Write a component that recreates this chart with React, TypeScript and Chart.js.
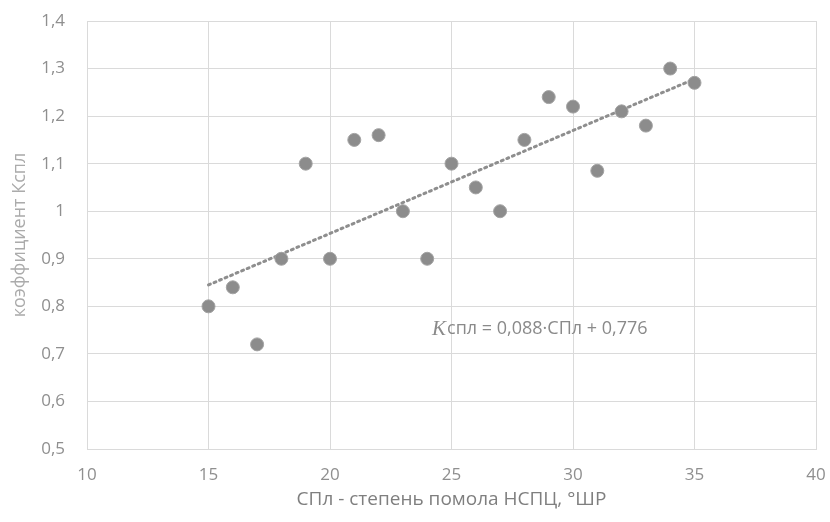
import React, { useEffect, useRef } from "react";
import { Chart, registerables } from "chart.js";

Chart.register(...registerables);

const xValues = [15, 16, 17, 18, 19, 20, 21, 22, 23, 24, 25, 26, 27, 28, 29, 30, 31, 32, 33, 34, 35];
const yValues = [0.8, 0.84, 0.72, 0.9, 1.1, 0.9, 1.15, 1.16, 1.0, 0.9, 1.1, 1.05, 1.0, 1.15, 1.24, 1.22, 1.085, 1.21, 1.18, 1.3, 1.27];
const trendX = [15, 35];
const trendY = [0.845, 1.278];
const xTitle = "СПл - степень помола НСПЦ, °ШР";
const yTitle = "коэффициент Кспл";
const eqItalic = "K";
const eqRest = "спл = 0,088·СПл + 0,776";
const eqAnchor = { x: 24.2, y: 0.752 };

const FONT = "'Open Sans', 'Noto Sans', sans-serif";

const equationPlugin = {
  id: "equation",
  afterDatasetsDraw(chart: any) {
    const { ctx, scales } = chart;
    const px = scales.x.getPixelForValue(eqAnchor.x);
    const py = scales.y.getPixelForValue(eqAnchor.y);
    ctx.save();
    ctx.textBaseline = "middle";
    ctx.textAlign = "left";
    ctx.fillStyle = "#8a8a8a";
    ctx.font = "italic 21px 'Liberation Serif', serif";
    ctx.fillText(eqItalic, px, py);
    const w = ctx.measureText(eqItalic).width;
    ctx.font = `18px ${FONT}`;
    ctx.fillText(eqRest, px + w + 1, py);
    ctx.restore();
  },
};

export default function App() {
  const ref = useRef<HTMLCanvasElement | null>(null);
  useEffect(() => {
    if (!ref.current) return;
    const chart = new Chart(ref.current, {
      type: "scatter",
      data: {
        datasets: [
          {
            type: "line",
            data: trendX.map((x, i) => ({ x, y: trendY[i] })),
            borderColor: "#8e8e8e",
            borderWidth: 3,
            borderDash: [2, 4],
            borderCapStyle: "round",
            pointRadius: 0,
            fill: false,
            order: 2,
          } as any,
          {
            data: xValues.map((x, i) => ({ x, y: yValues[i] })),
            backgroundColor: "#8c8c8c",
            borderColor: "#a3a3a3",
            borderWidth: 1,
            pointRadius: 6.5,
            order: 1,
          },
        ],
      },
      options: {
        animation: false,
        responsive: false,
        maintainAspectRatio: false,
        layout: { padding: { top: 21, right: 14, left: 0, bottom: 0 } },
        plugins: { legend: { display: false }, tooltip: { enabled: false } },
        scales: {
          x: {
            type: "linear",
            min: 10,
            max: 40,
            ticks: {
              stepSize: 5,
              padding: 16,
              color: "#8f8f8f",
              font: { family: FONT, size: 17 },
            },
            grid: { color: "#dadada", drawTicks: false },
            border: { color: "#dadada" },
            title: {
              display: true,
              text: xTitle,
              color: "#7f7f7f",
              font: { family: FONT, size: 19 },
              padding: { top: 0, bottom: 11 },
            },
            afterFit: (s: any) => {
              s.height = 73;
              s.paddingLeft = 0;
              s.paddingRight = 0;
            },
          },
          y: {
            min: 0.5,
            max: 1.4,
            ticks: {
              stepSize: 0.1,
              padding: 22,
              color: "#8f8f8f",
              font: { family: FONT, size: 17 },
              callback: (v: any) => String(Math.round(Number(v) * 10) / 10).replace(".", ","),
            },
            grid: { color: "#dadada", drawTicks: false },
            border: { color: "#dadada" },
            title: {
              display: true,
              text: yTitle,
              color: "#ababab",
              font: { family: FONT, size: 18 },
              padding: { top: 9, bottom: 0 },
            },
            afterFit: (s: any) => {
              s.width = 87;
              s.paddingTop = 0;
              s.paddingBottom = 0;
            },
          },
        },
      },
      plugins: [equationPlugin],
    });
    return () => chart.destroy();
  }, []);
  return (
    <div style={{ position: "fixed", left: 0, top: 0, width: 830, height: 522, background: "#fff" }}>
      <canvas ref={ref} width={830} height={522} style={{ width: 830, height: 522, display: "block" }} />
    </div>
  );
}
